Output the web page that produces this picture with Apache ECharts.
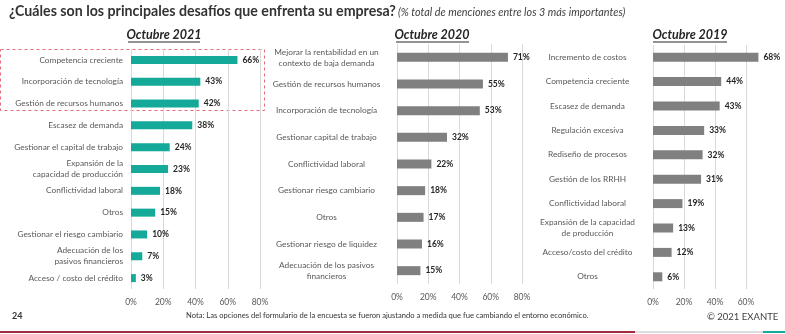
<!DOCTYPE html>
<html><head><meta charset="utf-8">
<script src="https://cdn.jsdelivr.net/npm/echarts@6/dist/echarts.min.js"></script>
<style>html,body{margin:0;padding:0;background:#fff}#c{width:785px;height:334px}</style>
</head><body><div id="c"></div>
<script>
var cats2021 = ["Competencia creciente","Incorporación de tecnología","Gestión de recursos humanos","Escasez de demanda","Gestionar el capital de trabajo","Expansión de la\ncapacidad de producción","Conflictividad laboral","Otros","Gestionar el riesgo cambiario","Adecuación de los\npasivos financieros","Acceso / costo del crédito"];
var vals2021 = [66,43,42,38,24,23,18,15,10,7,3];
var cats2020 = ["Mejorar la rentabilidad en un\ncontexto de baja demanda","Gestión de recursos humanos","Incorporación de tecnología","Gestionar capital de trabajo","Conflictividad laboral","Gestionar riesgo cambiario","Otros","Gestionar riesgo de liquidez","Adecuación de los pasivos\nfinancieros"];
var vals2020 = [71,55,53,32,22,18,17,16,15];
var cats2019 = ["Incremento de costos","Competencia creciente","Escasez de demanda","Regulación excesiva","Rediseño de procesos","Gestión de los RRHH","Conflictividad laboral","Expansión de la capacidad\nde producción","Acceso/costo del crédito","Otros"];
var vals2019 = [68,44,43,33,32,31,19,13,12,6];
var tickMax2019 = 60;
var panelTitles = ["Octubre 2021","Octubre 2020","Octubre 2019"];

var FONT = 'Lato';
var LBL = '#595959';
var chart = echarts.init(document.getElementById('c'), null, {renderer:'canvas'});

function yAxis(i, cats, align, show){
  return {type:'category', gridIndex:i, data:cats, inverse:true, show: show!==false,
    axisLine:{show:false}, axisTick:{show:false},
    axisLabel:{margin:8, color:LBL, fontFamily:FONT, fontSize:8.3, lineHeight:11,
      formatter: align ? function(v){return v.split('\n').map(function(s){return '{c|'+s+'}';}).join('\n');} : null,
      rich: align ? {c:{width:align, align:'center', color:LBL, fontFamily:FONT, fontSize:8.3, lineHeight:11}} : undefined}};
}
function xAxis(i, max, showSplit, showLabel){
  return {type:'value', gridIndex:i, min:0, max:max, interval:20,
    axisLine:{show:false}, axisTick:{show:false},
    splitLine:{show:showSplit, lineStyle:{color:'#d9d9d9', width:1}},
    axisLabel:{show:showLabel, margin:9, color:LBL, fontFamily:FONT, fontSize:8.5, formatter:'{value}%'}};
}
function barSeries(i, vals, color, bw){
  return {type:'bar', xAxisIndex:i, yAxisIndex:i, data:vals, barWidth:bw, clip:false,
    itemStyle:{color:color}, silent:true, z:3,
    label:{show:true, position:'right', distance:5, formatter:'{c}%', color:'#262626', fontWeight:'bold', fontFamily:FONT, fontSize:8.5}};
}

var option = {
  animation:false,
  textStyle:{fontFamily:FONT},
  grid:[
    {left:131, top:49, width:129, height:240},
    {left:397, top:44, width:125, height:240},
    {left:653, top:45, width:108.5, height:244},
    {left:653, top:45, width:93, height:244}
  ],
  xAxis:[xAxis(0,80,true,true), xAxis(1,80,true,true), xAxis(2,70,false,false), xAxis(3,tickMax2019,true,true)],
  yAxis:[yAxis(0,cats2021,null), yAxis(1,cats2020,125), yAxis(2,cats2019,115), yAxis(3,cats2019,null,false)],
  series:[barSeries(0, vals2021, '#14a999', 8), barSeries(1, vals2020, '#808080', 9), barSeries(2, vals2019, '#808080', 9)],
  graphic:[
    {type:'text', left:9, top:4, style:{text:'¿Cuáles son los principales desafíos que enfrenta su empresa?', fill:'#333', font:'bold 14.2px '+FONT}},
    {type:'text', left:398, top:7, style:{text:'(% total de menciones entre los 3 más importantes)', fill:'#404040', font:'italic 10.8px '+FONT}},
    {type:'text', x:164, y:28, style:{text:panelTitles[0], fill:'#262626', font:'bold italic 12.5px '+FONT, align:'center'}},
    {type:'line', shape:{x1:128, y1:42, x2:200, y2:42}, style:{stroke:'#262626', lineWidth:1}},
    {type:'text', x:432, y:28, style:{text:panelTitles[1], fill:'#262626', font:'bold italic 12.5px '+FONT, align:'center'}},
    {type:'line', shape:{x1:396, y1:42, x2:469, y2:42}, style:{stroke:'#262626', lineWidth:1}},
    {type:'text', x:690, y:28, style:{text:panelTitles[2], fill:'#262626', font:'bold italic 12.5px '+FONT, align:'center'}},
    {type:'line', shape:{x1:653, y1:42, x2:727, y2:42}, style:{stroke:'#262626', lineWidth:1}},
    {type:'rect', shape:{x:0.5, y:49.5, width:264, height:61}, style:{fill:'none', stroke:'#e06b7b', lineWidth:1, lineDash:[3,3]}},
    {type:'text', left:12, top:312, style:{text:'24', fill:'#333', font:'bold 9px '+FONT}},
    {type:'text', left:186, top:312, style:{text:'Nota: Las opciones del formulario de la encuesta se fueron ajustando a medida que fue cambiando el entorno económico.', fill:'#333', font:'7.6px '+FONT}},
    {type:'text', left:707, top:312, style:{text:'© 2021 EXANTE', fill:'#404040', font:'9.5px '+FONT}},
    {type:'rect', shape:{x:0, y:331, width:635, height:2}, style:{fill:'#a52a40'}},
    {type:'rect', shape:{x:635, y:331, width:128, height:2}, style:{fill:'#dddddd'}},
    {type:'rect', shape:{x:763, y:331, width:22, height:2}, style:{fill:'#14a999'}}
  ]
};
chart.setOption(option);
</script>
</body></html>
